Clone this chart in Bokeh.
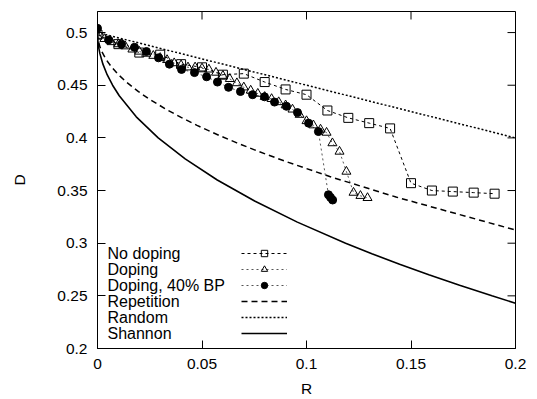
from bokeh.plotting import figure
from bokeh.models import Range1d, FixedTicker, Legend, LegendItem, Label
from bokeh.embed import file_html
from bokeh.resources import INLINE

# ---------------- data ----------------
nodop_R = [0.00, 0.01, 0.02, 0.03, 0.04, 0.05, 0.06, 0.07, 0.08, 0.09,
           0.10, 0.11, 0.12, 0.13, 0.14, 0.15, 0.16, 0.17, 0.18, 0.19]
nodop_D = [0.498, 0.489, 0.481, 0.479, 0.470, 0.467, 0.460, 0.461, 0.453, 0.446,
           0.441, 0.426, 0.419, 0.414, 0.409, 0.357, 0.350, 0.349, 0.348, 0.347]

dop_R = [0.0, 0.0033, 0.0067, 0.010, 0.0133, 0.0167, 0.020, 0.0233, 0.0267, 0.030,
         0.0333, 0.0367, 0.040, 0.0433, 0.0467, 0.050, 0.0533, 0.0567, 0.060, 0.0633,
         0.0667, 0.070, 0.0733, 0.0767, 0.080, 0.0833, 0.0867, 0.090, 0.0933, 0.0967,
         0.100, 0.1033, 0.1067, 0.1096, 0.1124, 0.1158, 0.1191, 0.1225, 0.1258, 0.1292]
dop_D = [0.497, 0.494, 0.491, 0.489, 0.487, 0.484, 0.482, 0.480, 0.478, 0.476,
         0.474, 0.471, 0.469, 0.467, 0.467, 0.466, 0.465, 0.462, 0.459, 0.456,
         0.452, 0.448, 0.445, 0.442, 0.439, 0.437, 0.434, 0.431, 0.427, 0.422,
         0.416, 0.412, 0.408, 0.405, 0.395, 0.387, 0.368, 0.348, 0.345, 0.343]

bp_R = [0.0, 0.0053, 0.0115, 0.0177, 0.0234, 0.0292, 0.0344, 0.0402, 0.0464, 0.0522,
        0.0574, 0.0627, 0.0684, 0.0742, 0.0799, 0.0847, 0.0904, 0.0957, 0.1010, 0.1057,
        0.1105, 0.1115, 0.1125]
bp_D = [0.504, 0.493, 0.489, 0.486, 0.482, 0.476, 0.470, 0.465, 0.462, 0.458,
        0.453, 0.448, 0.444, 0.441, 0.439, 0.434, 0.430, 0.424, 0.414, 0.406,
        0.346, 0.3435, 0.341]

rep_R = [0.0, 0.0002, 0.000999, 0.001996, 0.003984, 0.006623, 0.009901, 0.014085,
         0.019608, 0.02439, 0.032258, 0.04, 0.047619, 0.052632, 0.058824, 0.066667,
         0.076923, 0.090909, 0.111111, 0.142857, 0.2]
rep_D = [0.5, 0.4944, 0.4874, 0.4822, 0.4748, 0.4675, 0.4602, 0.4525,
         0.4439, 0.4373, 0.4278, 0.4194, 0.4119, 0.4073, 0.4018, 0.3953,
         0.3872, 0.3770, 0.3633, 0.3438, 0.3125]

rand_R = [0.0, 0.2]
rand_D = [0.5, 0.4]

shan_R = [0.0, 0.0000721, 0.0002885, 0.000649, 0.001154, 0.002597, 0.004616, 0.007225,
          0.010411, 0.018543, 0.029045, 0.041952, 0.057309, 0.075181, 0.095619, 0.118709,
          0.131279, 0.144550, 0.158535, 0.173254, 0.188722, 0.19998]
shan_D = [0.5, 0.495, 0.49, 0.485, 0.48, 0.47, 0.46, 0.45,
          0.44, 0.42, 0.40, 0.38, 0.36, 0.34, 0.32, 0.30,
          0.29, 0.28, 0.27, 0.26, 0.25, 0.243]

x_ticks = [0.0, 0.05, 0.1, 0.15, 0.2]
x_tick_labels = ["0", "0.05", "0.1", "0.15", "0.2"]
y_ticks = [0.2, 0.25, 0.3, 0.35, 0.4, 0.45, 0.5]
y_tick_labels = ["0.2", "0.25", "0.3", "0.35", "0.4", "0.45", "0.5"]
legend_labels = ["No doping", "Doping", "Doping, 40% BP", "Repetition", "Random", "Shannon"]

# ---------------- figure ----------------
FONT = "Liberation Sans"
FS = "15.5px"
FS_KEY = "16px"
X0, X1, Y0, Y1 = 0.0, 0.2, 0.2, 0.52
FW, FH = 418, 337
TICK = 8

p = figure(frame_width=FW, frame_height=FH, x_range=Range1d(X0, X1), y_range=Range1d(Y0, Y1),
           output_backend="svg", toolbar_location=None,
           min_border_left=97, min_border_right=17, min_border_top=11, min_border_bottom=49)
p.grid.visible = False
p.outline_line_color = "black"
p.outline_line_width = 1
p.background_fill_color = "white"
p.border_fill_color = "white"

xa = p.below[0]
ya = p.left[0]
xa.ticker = FixedTicker(ticks=x_ticks)
ya.ticker = FixedTicker(ticks=y_ticks)
xa.major_label_overrides = {t: l for t, l in zip(x_ticks, x_tick_labels)}
ya.major_label_overrides = {t: l for t, l in zip(y_ticks, y_tick_labels)}
for ax in (xa, ya):
    ax.major_tick_in = TICK
    ax.major_tick_out = 0
    ax.minor_tick_in = 0
    ax.minor_tick_out = 0
    ax.axis_line_color = "black"
    ax.major_tick_line_color = "black"
    ax.major_label_text_font = FONT
    ax.major_label_text_font_size = FS
    ax.major_label_text_color = "black"
    ax.axis_label_text_font = FONT
    ax.axis_label_text_font_size = FS
    ax.axis_label_text_font_style = "normal"
    ax.axis_label_text_color = "black"
    ax.major_label_standoff = 10
xa.axis_label = "R"
ya.axis_label = "D"
xa.axis_label_standoff = 8
ya.axis_label_standoff = 26

# mirrored inward ticks on top and right edges (from the tick arrays)
dy = TICK / FH * (Y1 - Y0)
dx = TICK / FW * (X1 - X0)
p.segment(x0=x_ticks, y0=[Y1] * len(x_ticks), x1=x_ticks, y1=[Y1 - dy] * len(x_ticks),
          line_color="black", line_width=1)
p.segment(x0=[X1] * len(y_ticks), y0=y_ticks, x1=[X1 - dx] * len(y_ticks), y1=y_ticks,
          line_color="black", line_width=1)

# ---------------- curves ----------------
r_shan = p.line(shan_R, shan_D, line_color="black", line_width=1.6)
r_rep = p.line(rep_R, rep_D, line_color="black", line_width=1.5, line_dash="6 4")
r_rand = p.line(rand_R, rand_D, line_color="black", line_width=1.5, line_dash="2 2")

l_nd = p.line(nodop_R, nodop_D, line_color="black", line_width=1, line_dash="3 3")
l_d = p.line(dop_R, dop_D, line_color="#555555", line_width=1, line_dash="2 3")
l_bp = p.line(bp_R, bp_D, line_color="#555555", line_width=1, line_dash="2 3")

s_nd = p.scatter(nodop_R, nodop_D, marker="square", size=9, fill_color=None,
                 line_color="black", line_width=1)
s_d = p.scatter(dop_R, dop_D, marker="triangle", size=9, fill_color=None,
                line_color="black", line_width=1)
s_bp = p.scatter(bp_R, bp_D, marker="circle", size=8, fill_color="black",
                 line_color="black", line_width=1)

# ---------------- key (text left, sample right) ----------------
row_h = 16
first_row_from_top = 242.0
glyph_x = 144
n_rows = len(legend_labels)
legend_bottom = FH - (first_row_from_top - row_h / 2 + n_rows * row_h)

items = [
    LegendItem(label="", renderers=[l_nd, s_nd]),
    LegendItem(label="", renderers=[l_d, s_d]),
    LegendItem(label="", renderers=[l_bp, s_bp]),
    LegendItem(label="", renderers=[r_rep]),
    LegendItem(label="", renderers=[r_rand]),
    LegendItem(label="", renderers=[r_shan]),
]
leg = Legend(items=items, location=(glyph_x, legend_bottom), glyph_width=46,
             glyph_height=row_h, label_height=4, label_width=0, label_standoff=0,
             label_text_font_size="1px", padding=0, margin=0, spacing=0,
             border_line_alpha=0, background_fill_alpha=0)
p.add_layout(leg)

key_x = 10 / FW * (X1 - X0)
for i, txt in enumerate(legend_labels):
    yc = Y1 - (first_row_from_top + i * row_h) / FH * (Y1 - Y0)
    p.add_layout(Label(x=key_x, y=yc, text=txt, text_baseline="middle",
                       text_font=FONT, text_font_size=FS_KEY, text_color="black"))

open("out.html", "w").write(file_html(p, INLINE))
